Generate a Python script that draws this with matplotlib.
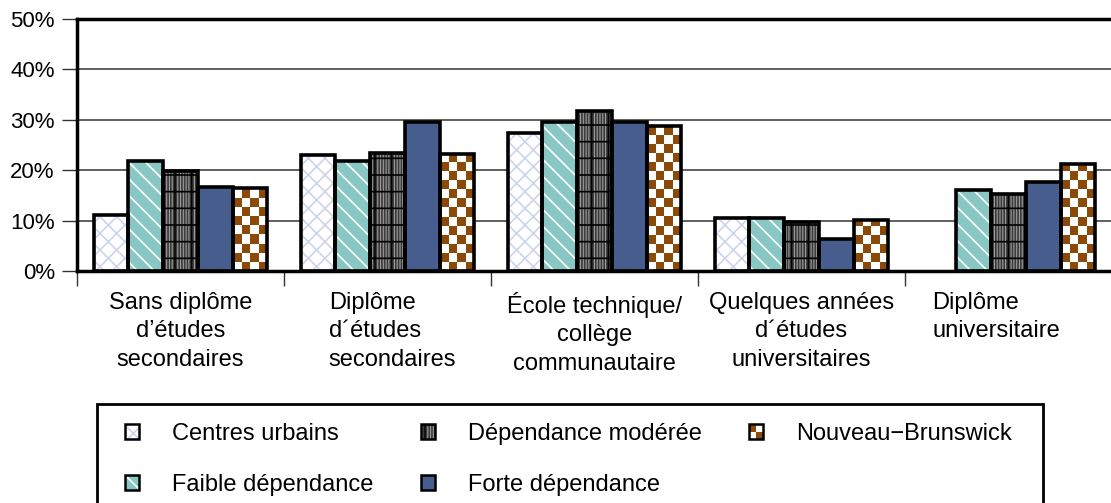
import numpy as np
import matplotlib
matplotlib.use("Agg")
import matplotlib.pyplot as plt
from matplotlib.patches import Rectangle, Patch
from matplotlib.colors import ListedColormap
from matplotlib.legend_handler import HandlerBase
from matplotlib.transforms import ScaledTranslation

plt.rcParams['font.family'] = ['Liberation Sans', 'DejaVu Sans']
plt.rcParams['hatch.linewidth'] = 1.2

# données
categories = ["Sans diplôme\nd’études\nsecondaires",
              "Diplôme\nd´études\nsecondaires",
              "École technique/\ncollège\ncommunautaire",
              "Quelques années\nd´études\nuniversitaires",
              "Diplôme\nuniversitaire"]
series = ["Centres urbains", "Faible dépendance", "Dépendance modérée",
          "Forte dépendance", "Nouveau\u2212Brunswick"]
centres_urbains = [11.2, 23.0, 27.4, 10.6, np.nan]
faible_dep = [21.8, 21.9, 29.6, 10.6, 16.1]
moderee_dep = [19.8, 23.4, 31.7, 9.7, 15.3]
forte_dep = [16.6, 29.5, 29.6, 6.4, 17.7]
nouveau_brunswick = [16.5, 23.2, 28.7, 10.1, 21.2]
values = [centres_urbains, faible_dep, moderee_dep, forte_dep, nouveau_brunswick]
yticks = [0, 10, 20, 30, 40, 50]

# styles : couches (couleur de fond, hachure, couleur de hachure)
layers = [
    [('white', 'xx', '#cdd5ee')],
    [('#88c7c4', '\\\\', 'white')],
    [('#9a9a9a', '||||||', '#3a3a3a'), ('none', '+', 'black')],
    [('#475d8d', None, '#475d8d')],
    [('white', None, 'white')],  # damier ajouté ensuite
]
brown = '#8b4a08'
checker_cmap = ListedColormap(['white', brown])

fig = plt.figure(figsize=(11.11, 5.03), dpi=100)
ax = fig.add_axes([77 / 1111, 1 - 271 / 503, 1035 / 1111, 252 / 503])

x = np.arange(len(categories))
w = 0.168

for s, vals in enumerate(values):
    pos = x + (s - 2) * w
    for i in range(len(x)):
        v = vals[i]
        if np.isnan(v):
            continue
        first = None
        for fc, hatch, hc in layers[s]:
            r = Rectangle((pos[i] - w / 2, 0), w, v, facecolor=fc, hatch=hatch,
                          edgecolor=hc, linewidth=0, zorder=2)
            ax.add_patch(r)
            if first is None:
                first = r
        if s == 4:
            cell = 1.8
            nrows = int(np.ceil(v / cell))
            arr = np.indices((nrows, 4)).sum(axis=0) % 2
            im = ax.imshow(arr, cmap=checker_cmap, origin='lower', aspect='auto',
                           extent=(pos[i] - w / 2, pos[i] + w / 2, 0, nrows * cell),
                           interpolation='nearest', zorder=2.5)
            im.set_clip_path(first)
        ax.add_patch(Rectangle((pos[i] - w / 2, 0), w, v, fill=False,
                               edgecolor='black', linewidth=2.6, zorder=3))

ax.set_xlim(-0.5, 4.5)
ax.set_ylim(0, 50)

ax.set_yticks(yticks)
ax.set_yticklabels([f"{t}%" for t in yticks], fontsize=16)
ax.tick_params(axis='y', length=11, width=1, color='#333333', pad=5)
ax.yaxis.grid(True, color='#444444', linewidth=1.2)
ax.set_axisbelow(True)

ax.set_xticks(x)
ax.set_xticklabels(categories, fontsize=17, linespacing=1.38)
ax.set_xticks(np.arange(-0.5, 4.5, 1), minor=True)
ax.tick_params(axis='x', which='major', length=0, pad=15)
ax.tick_params(axis='x', which='minor', length=11, width=1, color='#333333')
shifts = {1: 0.05, 4: -0.12}
for i, lab in enumerate(ax.get_xticklabels()):
    if i in shifts:
        lab.set_multialignment('left')
        lab.set_transform(lab.get_transform() +
                          ScaledTranslation(shifts[i], 0, fig.dpi_scale_trans))

for side in ['left', 'top', 'bottom']:
    ax.spines[side].set_linewidth(2.5)
    ax.spines[side].set_color('black')
ax.spines['right'].set_visible(False)


class CheckerHandler(HandlerBase):
    def create_artists(self, legend, orig_handle, xdescent, ydescent,
                       width, height, fontsize, trans):
        arts = []
        cw, ch = width / 2, height / 2
        for i in range(2):
            for j in range(2):
                col = brown if (i + j) % 2 == 0 else 'white'
                arts.append(Rectangle((-xdescent + j * cw, -ydescent + (1 - i) * ch),
                                      cw, ch, facecolor=col, edgecolor='none',
                                      transform=trans))
        arts.append(Rectangle((-xdescent, -ydescent), width, height, fill=False,
                              edgecolor='black', linewidth=1.8, transform=trans))
        return arts


handles = []
nb_handle = Patch(facecolor=brown)
for s in range(5):
    if s == 4:
        handles.append(nb_handle)
        continue
    parts = [Patch(facecolor=fc, hatch=hatch, edgecolor=hc, linewidth=0)
             for fc, hatch, hc in layers[s]]
    parts.append(Patch(fill=False, edgecolor='black', linewidth=1.8))
    handles.append(tuple(parts))

fig.legend(handles, series, ncol=3, loc='upper left',
           bbox_to_anchor=(125 / 1111, 1 - 423 / 503), frameon=False,
           fontsize=17, handlelength=0.6, handleheight=0.6, handletextpad=1.4,
           columnspacing=2.0, labelspacing=1.22, borderpad=0, borderaxespad=0,
           handler_map={nb_handle: CheckerHandler()})

fig.patches.append(Rectangle((97 / 1111, -0.05), (1043 - 97) / 1111, 0.05 + 1 - 404 / 503,
                             transform=fig.transFigure, fill=False,
                             edgecolor='black', linewidth=2))

fig.savefig("out.png", dpi=100)
